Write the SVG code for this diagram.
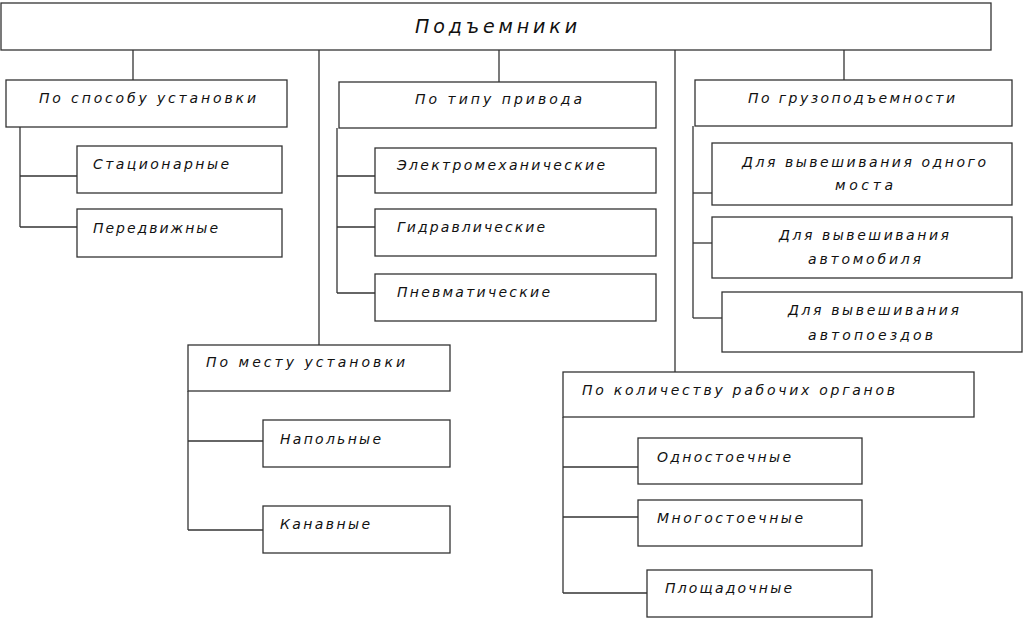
<svg xmlns="http://www.w3.org/2000/svg" width="1025" height="639" viewBox="0 0 1025 639">
<style>
rect{fill:#fff;stroke:#333;stroke-width:1.3}
.c line{stroke:#333;stroke-width:1.3}
text{font-family:"DejaVu Sans","Liberation Sans",sans-serif;font-style:oblique;font-size:14px;fill:#111}
.t{font-size:19px}
</style>
<rect x="0" y="0" width="1025" height="639" style="fill:#fff;stroke:none"/>
<g class="c" id="connectors">
<line x1="133" y1="50" x2="133" y2="80"/>
<line x1="319" y1="50" x2="319" y2="345"/>
<line x1="499" y1="50" x2="499" y2="82"/>
<line x1="675" y1="50" x2="675" y2="372"/>
<line x1="844" y1="50" x2="844" y2="80"/>
<line x1="20" y1="127" x2="20" y2="227"/>
<line x1="20" y1="176" x2="77" y2="176"/>
<line x1="20" y1="227" x2="77" y2="227"/>
<line x1="337" y1="128" x2="337" y2="293"/>
<line x1="337" y1="176" x2="375" y2="176"/>
<line x1="337" y1="227" x2="375" y2="227"/>
<line x1="337" y1="293" x2="375" y2="293"/>
<line x1="693" y1="126" x2="693" y2="318"/>
<line x1="693" y1="193" x2="712" y2="193"/>
<line x1="693" y1="243" x2="712" y2="243"/>
<line x1="693" y1="318" x2="722" y2="318"/>
<line x1="188" y1="391" x2="188" y2="530"/>
<line x1="188" y1="441" x2="263" y2="441"/>
<line x1="188" y1="530" x2="263" y2="530"/>
<line x1="563" y1="417" x2="563" y2="593"/>
<line x1="563" y1="467" x2="638" y2="467"/>
<line x1="563" y1="517" x2="638" y2="517"/>
<line x1="563" y1="593" x2="647" y2="593"/>
</g>
<g id="root"><rect x="1" y="3" width="990" height="47"/><text class="t" x="415" y="33" textLength="162" lengthAdjust="spacing">Подъемники</text></g>
<g id="n-sposob"><rect x="6" y="80" width="281" height="47"/><text x="39" y="103" textLength="217" lengthAdjust="spacing">По способу установки</text></g>
<g id="n-stat"><rect x="77" y="146" width="205" height="47"/><text x="93" y="169" textLength="136" lengthAdjust="spacing">Стационарные</text></g>
<g id="n-pered"><rect x="77" y="209" width="205" height="48"/><text x="93" y="233" textLength="125" lengthAdjust="spacing">Передвижные</text></g>
<g id="n-privod"><rect x="339" y="82" width="317" height="46"/><text x="415" y="104" textLength="167" lengthAdjust="spacing">По типу привода</text></g>
<g id="n-elektro"><rect x="375" y="148" width="281" height="45"/><text x="397" y="170" textLength="208" lengthAdjust="spacing">Электромеханические</text></g>
<g id="n-gidro"><rect x="375" y="209" width="281" height="47"/><text x="397" y="232" textLength="148" lengthAdjust="spacing">Гидравлические</text></g>
<g id="n-pnevmo"><rect x="375" y="274" width="281" height="47"/><text x="397" y="297" textLength="153" lengthAdjust="spacing">Пневматические</text></g>
<g id="n-gruz"><rect x="695" y="80" width="317" height="46"/><text x="748" y="103" textLength="207" lengthAdjust="spacing">По грузоподъемности</text></g>
<g id="n-most"><rect x="712" y="143" width="300" height="62"/><text x="742" y="167" textLength="244" lengthAdjust="spacing">Для вывешивания одного</text><text x="835" y="190" textLength="58" lengthAdjust="spacing">моста</text></g>
<g id="n-avto"><rect x="712" y="217" width="300" height="61"/><text x="779" y="240" textLength="170" lengthAdjust="spacing">Для вывешивания</text><text x="808" y="264" textLength="113" lengthAdjust="spacing">автомобиля</text></g>
<g id="n-poezd"><rect x="722" y="292" width="300" height="60"/><text x="788" y="315" textLength="171" lengthAdjust="spacing">Для вывешивания</text><text x="808" y="340" textLength="125" lengthAdjust="spacing">автопоездов</text></g>
<g id="n-mesto"><rect x="188" y="345" width="262" height="46"/><text x="206" y="367" textLength="199" lengthAdjust="spacing">По месту установки</text></g>
<g id="n-napol"><rect x="263" y="420" width="187" height="47"/><text x="280" y="444" textLength="101" lengthAdjust="spacing">Напольные</text></g>
<g id="n-kanav"><rect x="263" y="506" width="187" height="47"/><text x="280" y="529" textLength="90" lengthAdjust="spacing">Канавные</text></g>
<g id="n-kolvo"><rect x="563" y="372" width="411" height="45"/><text x="582" y="395" textLength="313" lengthAdjust="spacing">По количеству рабочих органов</text></g>
<g id="n-odno"><rect x="638" y="438" width="224" height="46"/><text x="657" y="462" textLength="134" lengthAdjust="spacing">Одностоечные</text></g>
<g id="n-mnogo"><rect x="638" y="500" width="224" height="46"/><text x="657" y="523" textLength="146" lengthAdjust="spacing">Многостоечные</text></g>
<g id="n-plosh"><rect x="647" y="570" width="225" height="47"/><text x="665" y="593" textLength="127" lengthAdjust="spacing">Площадочные</text></g>
</svg>
